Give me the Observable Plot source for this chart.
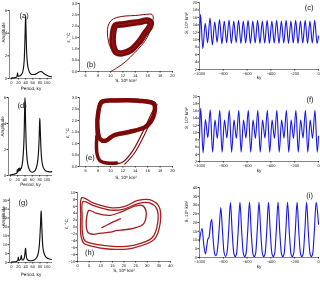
<!DOCTYPE html>
<html><head><meta charset="utf-8">
<script src="https://cdn.jsdelivr.net/npm/d3@7"></script>
<script src="https://cdn.jsdelivr.net/npm/@observablehq/plot@0.6"></script>
<style>
html,body{margin:0;padding:0;background:#fff;}
#fig{position:relative;width:320px;height:284px;overflow:hidden;background:#fff;font-family:"Liberation Sans",Arial,sans-serif;-webkit-font-smoothing:antialiased;}
#fig svg{position:absolute;overflow:visible;will-change:transform;}
#fig svg text{text-rendering:geometricPrecision;}
</style></head><body><div id="fig"></div>
<script>
// ---------- spectra (Period, ky -> Amplitude) ----------
const periodA = [0,5,10,14,16,17.5,18.5,19.5,22,25,28,31,33,35,36.5,37.5,38.5,39.3,40,40.7,41.5,42.5,44,46,49,53,58,64,70,75,79,83,87,92,98,105,112];
const ampA    = [0.03,0.05,0.08,0.12,0.18,0.5,0.22,0.2,0.22,0.25,0.35,0.5,0.75,1.2,1.9,2.8,3.9,4.9,5.5,4.9,3.8,2.6,1.7,1.1,0.7,0.45,0.35,0.35,0.42,0.52,0.6,0.62,0.55,0.42,0.3,0.2,0.15];
const periodD = [0,5,10,15,18,19,20,21,23,25,26,27,28,30,32,34,36,37.5,38.5,39.3,40,40.7,41.5,43,45,48,52,56,60,64,68,72,75,77,78.5,79.5,80.3,81,82,83.5,85,88,92,97,103,110,113];
const ampD    = [0.05,0.08,0.1,0.15,0.2,0.45,0.25,0.3,0.55,0.35,0.6,0.4,0.5,0.55,0.8,1.2,2.0,3.0,4.3,5.5,6.0,5.4,4.2,2.6,1.5,0.8,0.45,0.3,0.25,0.28,0.4,0.7,1.2,1.9,2.8,3.8,4.4,4.0,3.2,2.1,1.4,0.8,0.5,0.35,0.3,0.28,0.3];
const periodG = [0,5,10,14,17,18.5,19.5,20.5,22,24,26,27,28,29,30.5,32,34,36,37.5,38.5,39.5,40.3,41,42,43.5,45,48,52,56,60,64,68,72,75,77,78.5,80,81.5,82.5,83.3,84,85,86.5,88,91,95,100,106,112];
const ampG    = [0.2,0.3,0.4,0.6,0.9,1.5,3.0,1.5,1.2,1.5,2.0,3.0,4.0,2.5,1.5,1.4,1.6,2.5,4.0,6.0,8.0,7.5,5.5,3.5,2.2,1.6,1.2,1.0,1.0,1.1,1.4,2.0,3.2,5.0,7.5,10.5,15,21,26,29,27,21,14,9,5.5,3.5,2.5,2.0,1.7];

// ---------- phase portraits (S, 10^6 km^2 -> epsilon, C) ----------
const bLoopS = [10.8,12.0,13.2,14.6,15.9,16.5,16.3,15.6,14.6,13.3,11.9,10.9,10.4,10.4];
const bLoopE = [2.03,2.08,2.13,2.18,2.25,2.15,1.95,1.7,1.3,0.95,0.8,0.85,1.2,1.65];
const bTranS = [10.0,11.0,12.5,13.8,15.0,15.9,16.5,16.9,16.7,15.8,14.0,12.5,11.0,10.1,9.6,9.5,9.7,10.1,10.6];
const bTranE = [0.0,0.15,0.45,0.8,1.15,1.5,1.9,2.4,2.52,2.52,2.47,2.45,2.38,2.25,2.0,1.7,1.3,1.0,0.85];

const eLoop1S = [17.0,14.5,11.0,8.6,8.0,7.9,8.3,9.2,10.5,13.0,15.5,16.5,17.1];
const eLoop1E = [2.72,2.86,2.87,2.8,2.3,1.7,1.2,1.12,1.35,1.5,1.7,1.95,2.35];
const eLoop2S = [17.3,14.5,11.0,8.4,7.8,7.7,7.9,8.6,10.5,12.0,13.5,15.2,16.6];
const eLoop2E = [2.75,2.92,2.93,2.86,2.2,1.2,0.5,0.2,0.12,0.2,0.65,1.5,2.3];
const eDiagS  = [12.3,13.9,15.6,17.0,17.5];
const eDiagE  = [0.1,0.6,1.45,2.3,2.7];
const eBaseS  = [7.8,7.8,8.3,9.5,11.0];
const eBaseE  = [1.3,0.6,0.25,0.15,0.15];

const hTongS = [10.5,12.5,14.5,16.5,18.5];
const hTongE = [-0.2,0.5,1.2,1.8,2.4];
const hLoop2S = [4.9,8,11,14.2,18.5,22,25,28,29.5,28.5,24,20,17,14.2,10,6.5,4.5,3.8,4.0];
const hLoop2E = [4.8,4.0,3.5,3.4,4.3,5.3,6.1,6.2,4.5,1.0,-0.4,-0.8,-1.0,-1.5,-1.8,-2.1,-1.6,0.2,3.0];
const hLoop3S = [2.4,7,14.2,20,26,31,34,34.5,32,24,17,12,7,3.2,2.2,2.0];
const hLoop3E = [7.4,6.2,4.9,5.2,6.8,7.0,5.4,1.2,-3.2,-5.3,-5.7,-5.4,-4.9,-4.0,-2.0,3.0];
const hLoop4S = [1.9,7,14.2,20,26,31,35,35.6,33,24,17,12,7,2.7,1.5,1.4];
const hLoop4E = [8.5,6.9,5.6,5.9,7.7,7.9,6.0,1.3,-3.6,-6.1,-6.5,-6.3,-5.7,-4.7,-2.6,3.0];

// ---------- time series (ky -> S, 10^6 km^2) ----------
const tC = [-1000,-992,-972,-952,-932,-912,-892,-872,-852,-832,-812,-792,-772,-752,-732,-712,-692,-672,-652,-632,-612,-592,-572,-552,-532,-512,-492,-472,-452,-432,-412,-392,-372,-352,-332,-312,-292,-272,-252,-232,-212,-192,-172,-152,-132,-112,-92,-72,-52,-32,-12,0];
const sC = [9.5,16.8,7.6,14.4,9.2,15.8,8.6,14.8,9.3,15.4,8.9,15.0,9.2,15.3,9.0,15.0,9.2,15.2,9.0,15.0,9.1,15.2,9.0,15.0,9.1,15.2,9.0,15.0,9.1,15.2,9.0,15.0,9.1,15.2,9.0,15.0,9.1,15.2,9.0,15.0,9.1,15.2,9.0,15.0,9.1,15.2,9.0,15.0,9.1,15.2,9.0,11.0];
const tF = [-1000,-990,-970,-950,-930,-910,-890,-870,-850,-830,-810,-790,-770,-750,-730,-710,-690,-670,-650,-630,-610,-590,-570,-550,-530,-510,-490,-470,-450,-430,-410,-390,-370,-350,-330,-310,-290,-270,-250,-230,-210,-190,-170,-150,-130,-110,-90,-70,-50,-30,-10,0];
const sF = [8.5,16.8,4.4,13.6,8.6,16.3,4.6,13.5,8.4,16.2,4.6,13.5,8.5,16.2,4.6,13.5,8.4,16.2,4.6,13.5,8.5,16.2,4.6,13.5,8.4,16.2,4.6,13.5,8.5,16.2,4.6,13.5,8.4,16.2,4.6,13.5,8.5,16.2,4.6,13.5,8.4,16.2,4.6,13.5,8.5,16.2,4.6,13.5,8.4,16.2,4.6,9.0];
const tI = [-1000,-978,-965,-950,-940,-930,-920,-905,-897,-885,-872,-862,-850,-835,-821,-806,-794,-781,-768,-755,-740,
  -725,-712,-700,-688,-675,-660, -645,-632,-620,-608,-595,-580, -565,-552,-540,-528,-515,-500,
  -485,-472,-460,-448,-435,-420, -405,-392,-380,-368,-355,-340, -325,-312,-300,-288,-275,-260,
  -245,-232,-220,-208,-195,-180, -165,-152,-140,-128,-115,-100, -85,-72,-60,-48,-35,-20, -8,0];
const sI = [9.5,16.6,8,2.0,6,10.5,11.5,20,21.9,10,2,1.0,4,16,28.6,14,3,0.6,3,15,31.4,
  14,2.5,0.5,2.5,15,31.6, 14,2.5,0.5,2.5,15,31.5, 14,2.5,0.5,2.5,15,31.6,
  14,2.5,0.5,2.5,15,31.5, 14,2.5,0.5,2.5,15,31.6, 14,2.5,0.5,2.5,15,31.5,
  14,2.5,0.5,2.5,15,31.6, 14,2.5,0.5,2.5,15,31.5, 14,2.5,0.5,2.5,15,31.5, 26,19];

// ---------- tick labels ----------
const periodTicks = [0,20,40,60,80,100];
const ampTicks6 = [0,2,4,6];
const ampTicks35 = [0,5,10,15,20,25,30,35];
const sTicks = [6,8,10,12,14,16,18,20];
const epsTicks = [0,0.5,1,1.5,2,2.5,3];
const sTicksH = [0,5,10,15,20,25,30,35,40];
const epsTicksH = [-10,-8,-6,-4,-2,0,2,4,6,8,10];
const kyTicks = [-1000,-800,-600,-400,-200,0];
const sTicksTS = [2,4,6,8,10,12,14,16,18,20];
const sTicksTS40 = [0,5,10,15,20,25,30,35,40];

const FONT = "Liberation Sans, Arial, sans-serif";
const fig = document.getElementById("fig");
const rows = (xs, ys) => xs.map((v, i) => ({x: v, y: ys[i]}));
const AX = "#333";
const minus = d => String(d).replace("-", "\u2212");

function txt(s, o) {
  return Plot.text([s], {text: d => d, fontSize: 4.6, fill: "#111", ...o});
}

function panel({box, frame, x, y, marks, texts}) {
  const [bx, by, bw, bh] = box;
  const [fl, ft, fr, fb] = frame;
  const svg = Plot.plot({
    width: bw, height: bh,
    marginLeft: fl - bx, marginTop: ft - by, marginRight: bx + bw - fr, marginBottom: by + bh - fb,
    style: {fontFamily: FONT, fontSize: "4px", background: "transparent", color: "#222", overflow: "visible"},
    x: {domain: x.domain},
    y: {domain: y.domain},
    marks: [
      Plot.axisX({ticks: x.ticks, tickFormat: x.format || minus, tickSize: 1.5, tickPadding: 0.8, fontSize: 4, label: null, stroke: AX}),
      Plot.axisY({ticks: y.ticks, tickFormat: y.format || minus, tickSize: 1.5, tickPadding: 0.8, fontSize: 4, label: null, stroke: AX}),
      Plot.ruleX([x.domain[0]], {stroke: AX, strokeWidth: 0.6}),
      Plot.ruleY([y.domain[0]], {stroke: AX, strokeWidth: 0.6}),
      ...marks,
      ...texts
    ]
  });
  svg.style.position = "absolute";
  svg.style.left = bx + "px";
  svg.style.top = by + "px";
  svg.style.overflow = "visible";
  fig.appendChild(svg);
}

const SPEC = {stroke: "#111", strokeWidth: 1.15, curve: "monotone-x"};
const TS = {stroke: "#1414f0", strokeWidth: 1.1, curve: "monotone-x"};
const MAROON = "#7d0808";
const RED = "#a81c1c";
const fmt1 = d3.format(".1f");

// Row 1
panel({box: [0, 0, 62, 92], frame: [9, 10, 52, 78],
  x: {domain: [-5, 115], ticks: periodTicks}, y: {domain: [0, 6], ticks: ampTicks6},
  marks: [Plot.line(rows(periodA, ampA), {x: "x", y: "y", ...SPEC})],
  texts: [txt("(a)", {frameAnchor: "top-left", dx: 10, dy: 2.5, fontSize: 7.5}),
          txt("Amplitude", {frameAnchor: "left", dx: -6, dy: -2, rotate: -90}),
          txt("Period, ky", {frameAnchor: "bottom", dy: 11})]});
panel({box: [62, 0, 118, 92], frame: [79, 3, 172, 71],
  x: {domain: [5, 20], ticks: sTicks}, y: {domain: [0, 3], ticks: epsTicks, format: fmt1},
  marks: [Plot.line(rows(bTranS, bTranE), {x: "x", y: "y", stroke: MAROON, strokeWidth: 1, curve: "catmull-rom"}),
          Plot.line(rows(bLoopS, bLoopE), {x: "x", y: "y", stroke: MAROON, strokeWidth: 6.5, curve: "catmull-rom-closed"}),
          Plot.line(rows(bLoopS, bLoopE), {x: "x", y: "y", stroke: "#b03030", strokeWidth: 0.5, curve: "catmull-rom-closed"})],
  texts: [txt("(b)", {frameAnchor: "bottom-left", dx: 7, dy: -5, fontSize: 7.5}),
          txt("\u03b5, \u00b0C", {frameAnchor: "left", dx: -11, dy: 5, rotate: -90}),
          txt("S, 10\u2076 km\u00b2", {frameAnchor: "bottom", dy: 10})]});
panel({box: [180, 0, 140, 92], frame: [199, 2, 318, 69],
  x: {domain: [-1000, 0], ticks: kyTicks}, y: {domain: [2, 20], ticks: sTicksTS},
  marks: [Plot.line(rows(tC, sC), {x: "x", y: "y", ...TS})],
  texts: [txt("(c)", {frameAnchor: "top-right", dx: -5, dy: 2.5, fontSize: 7.5}),
          txt("S, 10\u2076 km\u00b2", {frameAnchor: "left", dx: -13, dy: -2, rotate: -90}),
          txt("ky", {frameAnchor: "bottom", dy: 9})]});

// Row 2
panel({box: [0, 92, 62, 94], frame: [8, 97, 52, 175],
  x: {domain: [-5, 115], ticks: periodTicks}, y: {domain: [0, 6], ticks: ampTicks6},
  marks: [Plot.line(rows(periodD, ampD), {x: "x", y: "y", ...SPEC})],
  texts: [txt("(d)", {frameAnchor: "top-left", dx: 9, dy: 5.5, fontSize: 7.5}),
          txt("Amplitude", {frameAnchor: "left", dx: -5.5, dy: 0, rotate: -90}),
          txt("Period, ky", {frameAnchor: "bottom", dy: 10.5})]});
panel({box: [62, 92, 118, 94], frame: [79, 97, 172, 166],
  x: {domain: [5, 20], ticks: sTicks}, y: {domain: [0, 3], ticks: epsTicks, format: fmt1},
  marks: [Plot.line(rows(eLoop2S, eLoop2E), {x: "x", y: "y", stroke: MAROON, strokeWidth: 1.2, curve: "catmull-rom-closed"}),
          Plot.line(rows(eDiagS, eDiagE), {x: "x", y: "y", stroke: MAROON, strokeWidth: 1.1, curve: "catmull-rom"}),
          Plot.line(rows(eBaseS, eBaseE), {x: "x", y: "y", stroke: MAROON, strokeWidth: 3.5, curve: "catmull-rom"}),
          Plot.line(rows(eLoop1S, eLoop1E), {x: "x", y: "y", stroke: MAROON, strokeWidth: 4.5, curve: "catmull-rom-closed"})],
  texts: [txt("(e)", {frameAnchor: "bottom-left", dx: 6, dy: -7, fontSize: 7.5}),
          txt("\u03b5, \u00b0C", {frameAnchor: "left", dx: -11.5, dy: 6, rotate: -90}),
          txt("S, 10\u2076 km\u00b2", {frameAnchor: "bottom", dy: 12})]});
panel({box: [180, 92, 140, 94], frame: [199, 96, 318, 161],
  x: {domain: [-1000, 0], ticks: kyTicks}, y: {domain: [2, 20], ticks: sTicksTS},
  marks: [Plot.line(rows(tF, sF), {x: "x", y: "y", ...TS})],
  texts: [txt("(f)", {frameAnchor: "top-right", dx: -5, dy: 0, fontSize: 7.5}),
          txt("S, 10\u2076 km\u00b2", {frameAnchor: "left", dx: -13, dy: 0, rotate: -90}),
          txt("ky", {frameAnchor: "bottom", dy: 10})]});

// Row 3
panel({box: [0, 186, 62, 98], frame: [9, 198, 52, 262],
  x: {domain: [-5, 115], ticks: periodTicks}, y: {domain: [0, 36], ticks: ampTicks35},
  marks: [Plot.line(rows(periodG, ampG), {x: "x", y: "y", ...SPEC})],
  texts: [txt("(g)", {frameAnchor: "top-left", dx: 9, dy: 1.5, fontSize: 7.5}),
          txt("Amplitude", {frameAnchor: "left", dx: -6, dy: -4, rotate: -90}),
          txt("Period, ky", {frameAnchor: "bottom", dy: 13})]});
panel({box: [62, 186, 118, 98], frame: [77, 192, 170, 261],
  x: {domain: [0, 40], ticks: sTicksH}, y: {domain: [-10, 10], ticks: epsTicksH},
  marks: [Plot.line(rows(hTongS, hTongE), {x: "x", y: "y", stroke: RED, strokeWidth: 1.3, curve: "catmull-rom"}),
          Plot.line(rows(hLoop2S, hLoop2E), {x: "x", y: "y", stroke: RED, strokeWidth: 1.3, curve: "catmull-rom-closed"}),
          Plot.line(rows(hLoop3S, hLoop3E), {x: "x", y: "y", stroke: RED, strokeWidth: 1.3, curve: "catmull-rom-closed"}),
          Plot.line(rows(hLoop4S, hLoop4E), {x: "x", y: "y", stroke: RED, strokeWidth: 1.3, curve: "catmull-rom-closed"})],
  texts: [txt("(h)", {frameAnchor: "bottom-left", dx: 7.5, dy: -7, fontSize: 7.5}),
          txt("\u03b5, \u00b0C", {frameAnchor: "left", dx: -11, dy: 2, rotate: -90}),
          txt("S, 10\u2076 km\u00b2", {frameAnchor: "bottom", dy: 10.5})]});
panel({box: [180, 186, 140, 98], frame: [199, 187, 318, 257],
  x: {domain: [-1000, 0], ticks: kyTicks}, y: {domain: [0, 40], ticks: sTicksTS40},
  marks: [Plot.line(rows(tI, sI), {x: "x", y: "y", ...TS})],
  texts: [txt("(i)", {frameAnchor: "top-right", dx: -5.5, dy: 5.5, fontSize: 7.5}),
          txt("S, 10\u2076 km\u00b2", {frameAnchor: "left", dx: -13, dy: 0, rotate: -90}),
          txt("ky", {frameAnchor: "bottom", dy: 10})]});
</script>
</body></html>
